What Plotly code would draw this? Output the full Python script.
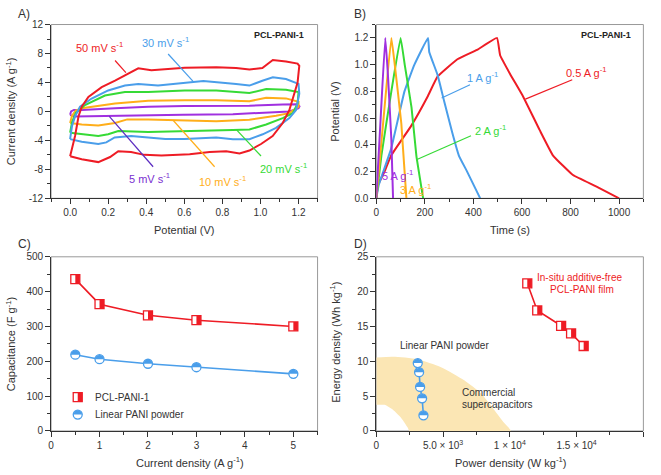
import plotly.graph_objects as go

W, H = 661, 475
FONT = "Liberation Sans, Arial, sans-serif"

RED = "#EE1C25"
BLUE = "#4A9EEA"
GREEN = "#36DA36"
ORANGE = "#FFAE1A"
PURPLE = "#A030E0"
DARK = "#333333"

# ---------------- Panel A: CV curves ----------------
cv50_v = [0.0, 0.026, 0.044, 0.061, 0.096, 0.166, 0.236, 0.296, 0.358, 0.427, 0.515, 0.602, 0.768, 0.872, 0.942, 1.01, 1.065, 1.134, 1.195, 1.204, 1.195, 1.178, 1.152, 1.117, 1.064, 1.003, 0.942, 0.89, 0.82, 0.733, 0.628, 0.48, 0.39, 0.32, 0.253, 0.21, 0.148, 0.061, 0.0]
cv50_i = [-6.2, -3.4, -0.7, 0.66, 2.0, 3.35, 4.24, 5.14, 5.95, 5.68, 5.81, 6.04, 6.1, 6.0, 5.8, 6.0, 7.1, 6.9, 6.6, 6.3, 4.0, 2.45, 0.2, -1.6, -3.4, -4.5, -5.4, -5.8, -5.5, -5.6, -5.9, -6.1, -6.0, -5.6, -5.5, -6.3, -7.0, -6.6, -6.2]
cv30_v = [0.0, 0.01, 0.026, 0.052, 0.113, 0.2, 0.288, 0.358, 0.462, 0.602, 0.7, 0.872, 0.942, 1.01, 1.065, 1.134, 1.2, 1.204, 1.187, 1.152, 1.082, 1.012, 0.942, 0.855, 0.768, 0.6, 0.5, 0.32, 0.234, 0.19, 0.148, 0.061, 0.0]
cv30_i = [-3.83, -2.0, -0.7, 0.66, 1.78, 2.9, 3.57, 3.8, 3.57, 4.0, 4.2, 3.8, 3.57, 4.24, 4.7, 4.47, 3.8, 2.45, 0.2, -0.92, -2.26, -3.16, -3.83, -3.83, -3.6, -3.8, -3.8, -3.4, -3.6, -4.28, -4.5, -4.2, -3.83]
cv20_v = [0.0, 0.01, 0.03, 0.078, 0.183, 0.288, 0.41, 0.602, 0.768, 0.942, 1.03, 1.134, 1.2, 1.195, 1.17, 1.117, 1.03, 0.942, 0.855, 0.68, 0.41, 0.253, 0.2, 0.148, 0.061, 0.0]
cv20_i = [-2.93, -1.5, -0.2, 0.88, 2.2, 2.68, 2.68, 2.9, 2.9, 2.54, 3.1, 3.0, 2.68, 1.1, -0.24, -0.92, -1.8, -2.5, -2.57, -2.7, -2.84, -2.7, -3.16, -3.38, -3.16, -2.93]
cv10_v = [0.0, 0.01, 0.03, 0.061, 0.236, 0.41, 0.602, 0.768, 0.942, 1.03, 1.134, 1.2, 1.2, 1.152, 1.082, 0.942, 0.768, 0.593, 0.41, 0.3, 0.236, 0.148, 0.061, 0.0]
cv10_i = [-1.59, -0.6, 0.1, 0.43, 1.1, 1.47, 1.55, 1.55, 1.4, 1.9, 1.8, 1.33, 0.66, -0.24, -0.6, -1.14, -1.36, -1.2, -1.1, -1.1, -1.59, -1.95, -1.82, -1.59]
cv5_v = [0.0, 0.005, 0.02, 0.061, 0.236, 0.41, 0.602, 0.942, 1.117, 1.195, 1.205, 1.2, 1.152, 1.03, 0.855, 0.593, 0.32, 0.148, 0.02, 0.0]
cv5_i = [-0.47, 0.0, 0.2, 0.2, 0.43, 0.66, 0.74, 0.79, 0.97, 1.0, 0.7, 0.43, 0.0, -0.15, -0.38, -0.47, -0.6, -0.69, -0.69, -0.47]
a_ytickvals = [-12, -8, -4, 0, 4, 8, 12]
a_yticktext = ["-12", "-8", "-4", "0", "4", "8", "12"]

# ---------------- Panel B: GCD curves ----------------
gcd05_t = [0, 7, 34, 61, 143, 211, 252, 334, 415, 497, 510, 551, 605, 673, 728, 810, 905, 1000]
gcd05_v = [0, 0.1, 0.2, 0.32, 0.54, 0.76, 0.91, 1.04, 1.11, 1.2, 1.07, 0.93, 0.76, 0.51, 0.32, 0.174, 0.09, 0]
gcd1_t = [0, 10, 61, 116, 157, 213, 218, 252, 279, 313, 340, 374, 428]
gcd1_v = [0, 0.1, 0.37, 0.8, 1.0, 1.2, 1.095, 0.925, 0.73, 0.49, 0.32, 0.2, 0]
gcd2_t = [0, 21, 62, 100, 117, 145, 165, 193]
gcd2_v = [0, 0.32, 0.8, 1.2, 1.0, 0.68, 0.32, 0]
gcd3_t = [0, 30, 62, 76, 103, 124]
gcd3_v = [0, 0.6, 1.2, 1.0, 0.56, 0]
gcd5_t = [0, 18, 37, 48, 62, 69]
gcd5_v = [0, 0.6, 1.2, 0.92, 0.44, 0]

# ---------------- Panel C: rate capability ----------------
c_current = [0.5, 1, 2, 3, 5]
c_pcl = [436, 364, 332, 318, 300]
c_pani = [219, 206, 193, 183, 164]

# ---------------- Panel D: Ragone ----------------
d_pcl_p = [11306, 12051, 13840, 14586, 15528]
d_pcl_e = [21.2, 17.3, 15.1, 14.0, 12.2]
d_pani_p = [3105, 3205, 3280, 3429, 3529]
d_pani_e = [9.75, 8.44, 6.33, 4.69, 2.25]
comm_p = [0, 1242, 3105, 4845, 6584, 7826, 8820, 9565, 10062, 2485, 2360, 1863, 1242, 621, 0]
comm_e = [10.55, 10.65, 10.3, 9.15, 7.27, 5.4, 3.05, 1.17, 0, 0, 0.47, 1.88, 3.05, 3.75, 3.75]
d_tickvals = [0, 5000, 10000, 15000, 20000]
d_ticktext = ["0", "5.0 × 10<sup>3</sup>", "1 × 10<sup>4</sup>", "1.5 × 10<sup>4</sup>", "2.0 × 10<sup>4</sup>"]

# ---------------- geometry ----------------
LX = (48.3, 316.0)
RX = (375.0, 643.3)
TY = (19.0, 197.3)
BY = (257.3, 436.0)


def xd(p):
    return [p[0] / W, p[1] / W]


def yd(p):
    return [1 - p[1] / H, 1 - p[0] / H]


ranges = {
    "A": ([-0.1, 1.3], [-12, 12], LX, TY),
    "B": ([0, 1100], [0, 1.3], RX, TY),
    "C": ([0, 5.5], [0, 500], LX, BY),
    "D": ([0, 20000], [0, 25], RX, BY),
}


def scale(panel):
    xr, yr, px, py = ranges[panel]
    kx = (px[1] - px[0]) / (xr[1] - xr[0])
    ky = (py[1] - py[0]) / (yr[1] - yr[0])
    return kx, ky


def half_square(xs, ys, panel, size):
    kx, ky = scale(panel)
    h = size / 2.0
    X, Y = [], []
    for x, y in zip(xs, ys):
        X += [x, x + h / kx, x + h / kx, x, x, None]
        Y += [y - h / ky, y - h / ky, y + h / ky, y + h / ky, y - h / ky, None]
    return X, Y


def half_circle(xs, ys, panel, size):
    import math
    kx, ky = scale(panel)
    r = size / 2.0
    X, Y = [], []
    for x, y in zip(xs, ys):
        for k in range(0, 21):
            a = math.pi * k / 20
            X.append(x + r * math.cos(a) / kx)
            Y.append(y + r * math.sin(a) / ky)
        X += [X[-21], None]
        Y += [Y[-21], None]
    return X, Y


fig = go.Figure()

# --- Panel A traces
for v, i, col in [(cv5_v, cv5_i, PURPLE), (cv10_v, cv10_i, ORANGE), (cv20_v, cv20_i, GREEN),
                  (cv30_v, cv30_i, BLUE), (cv50_v, cv50_i, RED)]:
    fig.add_trace(go.Scatter(x=v, y=i, mode="lines", xaxis="x", yaxis="y",
                             line=dict(color=col, width=2, shape="linear"),
                             showlegend=False, hoverinfo="skip"))

# --- Panel B traces
for t, v, col in [(gcd05_t, gcd05_v, RED), (gcd1_t, gcd1_v, BLUE), (gcd2_t, gcd2_v, GREEN),
                  (gcd3_t, gcd3_v, ORANGE), (gcd5_t, gcd5_v, PURPLE)]:
    fig.add_trace(go.Scatter(x=t, y=v, mode="lines", xaxis="x2", yaxis="y2",
                             line=dict(color=col, width=2, shape="spline", smoothing=0.3),
                             showlegend=False, hoverinfo="skip"))

# --- Panel D shaded region
fig.add_trace(go.Scatter(x=comm_p, y=comm_e, mode="lines", fill="toself", xaxis="x4", yaxis="y4",
                         fillcolor="#FBE6B4", line=dict(width=0, color="#FBE6B4", shape="spline", smoothing=0.6),
                         showlegend=False, hoverinfo="skip"))

MS = 9


def add_half_series(xs, ys, col, panel, xa, ya, kind, with_line=True):
    if with_line:
        fig.add_trace(go.Scatter(x=xs, y=ys, mode="lines", xaxis=xa, yaxis=ya,
                                 line=dict(color=col, width=1.6), showlegend=False, hoverinfo="skip"))
    sym = "square" if kind == "sq" else "circle"
    fig.add_trace(go.Scatter(x=xs, y=ys, mode="markers", xaxis=xa, yaxis=ya,
                             marker=dict(symbol=sym, size=MS, color="white", line=dict(color=col, width=1.3)),
                             showlegend=False, hoverinfo="skip"))
    if kind == "sq":
        X, Y = half_square(xs, ys, panel, MS)
    else:
        X, Y = half_circle(xs, ys, panel, MS)
    fig.add_trace(go.Scatter(x=X, y=Y, mode="lines", fill="toself", fillcolor=col, xaxis=xa, yaxis=ya,
                             line=dict(width=0, color=col), showlegend=False, hoverinfo="skip"))


# --- Panel C
add_half_series(c_current, c_pcl, RED, "C", "x3", "y3", "sq")
add_half_series(c_current, c_pani, BLUE, "C", "x3", "y3", "ci")
# legend markers
add_half_series([0.55], [97], RED, "C", "x3", "y3", "sq", with_line=False)
add_half_series([0.55], [47], BLUE, "C", "x3", "y3", "ci", with_line=False)

# --- Panel D
add_half_series(d_pcl_p, d_pcl_e, RED, "D", "x4", "y4", "sq")
add_half_series(d_pani_p, d_pani_e, BLUE, "D", "x4", "y4", "ci")


def axis(dom, rng, anchor, **kw):
    d = dict(domain=dom, range=rng, anchor=anchor, showline=True, linecolor=DARK, linewidth=1,
             ticks="outside", ticklen=5, tickwidth=1, tickcolor=DARK,
             tickfont=dict(size=10, color=DARK, family=FONT), showgrid=False, zeroline=False)
    d.update(kw)
    return d


def minor(dt):
    return dict(dtick=dt, ticks="outside", ticklen=3, tickcolor=DARK, showgrid=False)


layout = dict(
    width=W, height=H, margin=dict(l=0, r=0, t=0, b=0),
    paper_bgcolor="white", plot_bgcolor="white", showlegend=False,
    font=dict(family=FONT, color=DARK),
    xaxis=axis(xd(LX), [-0.1, 1.3], "y", tick0=0, dtick=0.2, tickformat=".1f", minor=minor(0.1)),
    yaxis=axis(yd(TY), [-12, 12], "x", tickvals=a_ytickvals, ticktext=a_yticktext, minor=minor(2)),
    xaxis2=axis(xd(RX), [0, 1100], "y2", tick0=0, dtick=200, minor=minor(100)),
    yaxis2=axis(yd(TY), [0, 1.3], "x2", tick0=0, dtick=0.2, tickformat=".1f", minor=minor(0.1)),
    xaxis3=axis(xd(LX), [0, 5.5], "y3", tick0=0, dtick=1, minor=minor(0.5)),
    yaxis3=axis(yd(BY), [0, 500], "x3", tick0=0, dtick=100, minor=minor(50)),
    xaxis4=axis(xd(RX), [0, 20000], "y4", tickvals=d_tickvals, ticktext=d_ticktext, minor=minor(2500)),
    yaxis4=axis(yd(BY), [0, 25], "x4", tick0=0, dtick=5, minor=minor(2.5)),
)
fig.update_layout(**layout)

# frames
shapes = []
for xa, ya in [("x", "y"), ("x2", "y2"), ("x3", "y3"), ("x4", "y4")]:
    shapes.append(dict(type="rect", xref=xa + " domain", yref=ya + " domain", x0=0, x1=1, y0=0, y1=1,
                       line=dict(color="#999999", width=1), layer="below"))


def leader(xa, ya, x0, y0, x1, y1, col):
    shapes.append(dict(type="line", xref=xa, yref=ya, x0=x0, y0=y0, x1=x1, y1=y1,
                       line=dict(color=col, width=1.2)))


leader("x", "y", 0.236, 7.03, 0.293, 5.37, RED)
leader("x", "y", 0.515, 7.93, 0.646, 4.16, BLUE)
leader("x", "y", 0.872, -2.49, 1.003, -6.16, GREEN)
leader("x", "y", 0.541, -1.22, 0.759, -7.64, ORANGE)
leader("x", "y", 0.206, -0.69, 0.436, -7.64, "#5B2CC0")
leader("x2", "y2", 807, 0.887, 614, 0.742, RED)
leader("x2", "y2", 386, 0.85, 269, 0.75, BLUE)
leader("x2", "y2", 390, 0.468, 165, 0.289, GREEN)
fig.update_layout(shapes=shapes)

ann = []


def txt(xa, ya, x, y, s, col, size=11, xanchor="center", **kw):
    ann.append(dict(xref=xa, yref=ya, x=x, y=y, text=s, showarrow=False, xanchor=xanchor, yanchor="middle",
                    font=dict(size=size, color=col, family=FONT), **kw))


# Panel A labels
txt("x", "y", 0.154, 8.9, "50 mV s<sup>-1</sup>", RED)
txt("x", "y", 0.5, 9.55, "30 mV s<sup>-1</sup>", BLUE)
txt("x", "y", 1.12, -7.8, "20 mV s<sup>-1</sup>", GREEN)
txt("x", "y", 0.8, -9.66, "10 mV s<sup>-1</sup>", ORANGE)
txt("x", "y", 0.418, -9.26, "5 mV s<sup>-1</sup>", "#7A2FD0")
txt("x", "y", 1.097, 10.6, "<b>PCL-PANI-1</b>", "#222222", size=9)
# Panel B labels
txt("x2", "y2", 947, 1.222, "<b>PCL-PANI-1</b>", "#222222", size=9)
txt("x2", "y2", 865, 0.948, "0.5 A g<sup>-1</sup>", RED)
txt("x2", "y2", 439, 0.904, "1 A g<sup>-1</sup>", BLUE)
txt("x2", "y2", 472, 0.511, "2 A g<sup>-1</sup>", GREEN)
txt("x2", "y2", 86, 0.177, "5 A g<sup>-1</sup>", PURPLE)
txt("x2", "y2", 162, 0.07, "3 A g<sup>-1</sup>", ORANGE)
# Panel C legend text
txt("x3", "y3", 0.874, 97, "PCL-PANI-1", DARK, size=10, xanchor="left")
txt("x3", "y3", 0.874, 47, "Linear PANI powder", DARK, size=10, xanchor="left")
# Panel D labels
txt("x4", "y4", 15205, 22.05, "In-situ additive-free", RED, size=10)
txt("x4", "y4", 15430, 20.3, "PCL-PANI film", RED, size=10)
txt("x4", "y4", 5093, 12.2, "Linear PANI powder", DARK, size=10)
txt("x4", "y4", 6286, 5.49, "Commercial", DARK, size=10, xanchor="left")
txt("x4", "y4", 6286, 3.85, "supercapacitors", DARK, size=10, xanchor="left")


def ptxt(xpx, ypx, s, size=11, angle=0, xanchor="center"):
    ann.append(dict(xref="paper", yref="paper", x=xpx / W, y=1 - ypx / H, text=s, showarrow=False,
                    xanchor=xanchor, yanchor="middle", textangle=angle,
                    font=dict(size=size, color=DARK, family=FONT)))


# axis titles
ptxt(182, 230, "Potential (V)")
ptxt(509, 230, "Time (s)")
ptxt(188, 468, "Current density (A g<sup>-1</sup>)")
ptxt(510, 468, "Power density (W kg<sup>-1</sup>)")
ptxt(8, 108, "Current density (A g<sup>-1</sup>)", angle=-90)
ptxt(334, 108, "Potential (V)", angle=-90)
ptxt(8, 347, "Capacitance (F g<sup>-1</sup>)", angle=-90)
ptxt(334, 345, "Energy density (Wh kg<sup>-1</sup>)", angle=-90)
# panel labels
ptxt(13, 8, "A)", size=12, xanchor="left")
ptxt(351, 8, "B)", size=12, xanchor="left")
ptxt(13, 244, "C)", size=12, xanchor="left")
ptxt(351, 244, "D)", size=12, xanchor="left")

fig.update_layout(annotations=ann)
fig.write_html("out.html")
